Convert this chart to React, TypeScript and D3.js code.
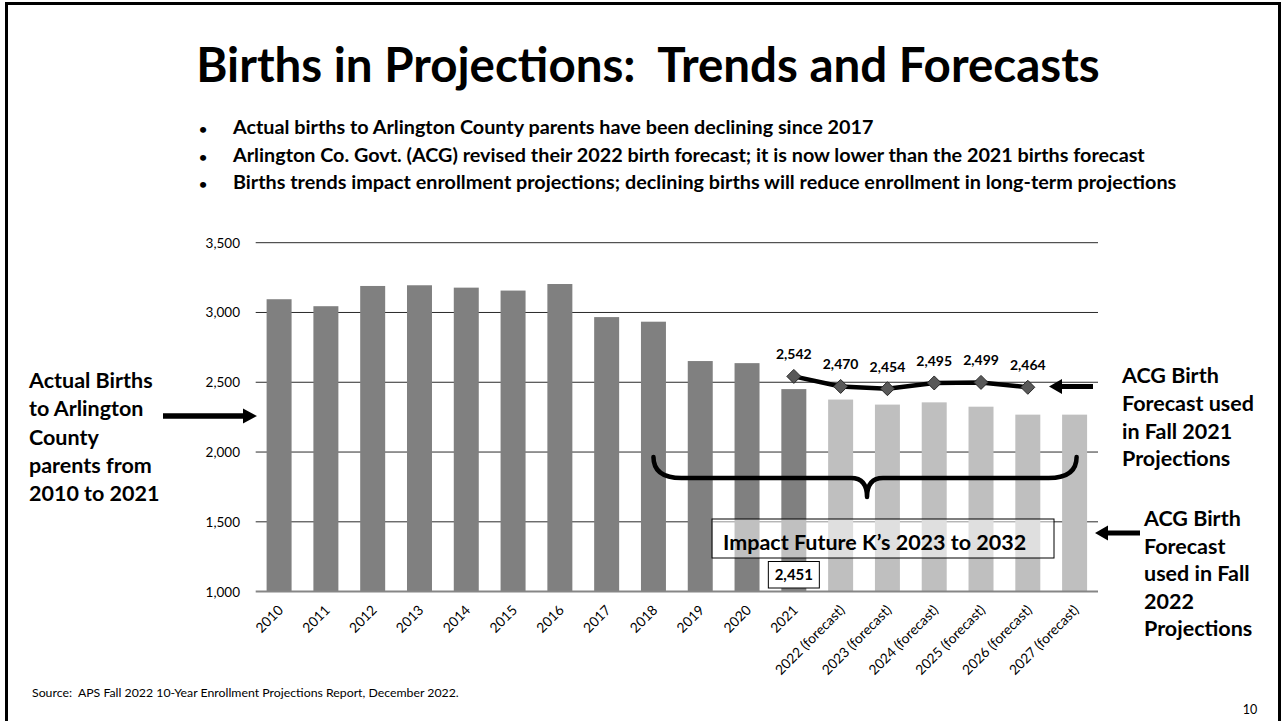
import React from "react";
import * as d3 from "d3";

const categories = [
  "2010", "2011", "2012", "2013", "2014", "2015", "2016", "2017", "2018", "2019", "2020", "2021",
  "2022 (forecast)", "2023 (forecast)", "2024 (forecast)", "2025 (forecast)", "2026 (forecast)", "2027 (forecast)",
];
const birthValues = [3095, 3045, 3190, 3195, 3178, 3157, 3204, 2967, 2934, 2652, 2637, 2451, 2376, 2340, 2356, 2325, 2268, 2268];
const isForecast = [false, false, false, false, false, false, false, false, false, false, false, false, true, true, true, true, true, true];

const fall2021Categories = ["2021", "2022 (forecast)", "2023 (forecast)", "2024 (forecast)", "2025 (forecast)", "2026 (forecast)"];
const fall2021Values = [2542, 2470, 2454, 2495, 2499, 2464];

const yTicks = [1000, 1500, 2000, 2500, 3000, 3500];

const titleText = "Births in Projections:  Trends and Forecasts";
const bullets = [
  "Actual births to Arlington County parents have been declining since 2017",
  "Arlington Co. Govt. (ACG) revised their 2022 birth forecast; it is now lower than the 2021 births forecast",
  "Births trends impact enrollment projections; declining births will reduce enrollment in long-term projections",
];
const leftNote = ["Actual Births", "to Arlington", "County", "parents from", "2010 to 2021"];
const rightNote2021 = ["ACG Birth", "Forecast used", "in Fall 2021", "Projections"];
const rightNote2022 = ["ACG Birth", "Forecast", "used in Fall", "2022", "Projections"];
const impactText = "Impact Future K\u2019s 2023 to 2032";
const sourceText = "Source:  APS Fall 2022 10-Year Enrollment Projections Report, December 2022.";
const pageNumber = "10";

const FONT = "Lato, 'Open Sans', sans-serif";

function leftArrow(tipX: number, tailX: number, cy: number) {
  const head = 13, hh = 7.5, sh = 2.6;
  return `M${tipX},${cy} L${tipX + head},${cy - hh} L${tipX + head},${cy - sh} L${tailX},${cy - sh} L${tailX},${cy + sh} L${tipX + head},${cy + sh} L${tipX + head},${cy + hh} Z`;
}
function rightArrow(tailX: number, tipX: number, cy: number) {
  const head = 14, hh = 7.5, sh = 2.8;
  return `M${tipX},${cy} L${tipX - head},${cy - hh} L${tipX - head},${cy - sh} L${tailX},${cy - sh} L${tailX},${cy + sh} L${tipX - head},${cy + sh} L${tipX - head},${cy + hh} Z`;
}

export default function App() {
  const W = 1283, H = 721;
  const x = d3.scaleBand<string>().domain(categories).range([255.7, 1098]).paddingInner(0.466).paddingOuter(0.233);
  const y = d3.scaleLinear().domain([1000, 3500]).range([591.6, 242.7]);
  const cx = (c: string) => (x(c) as number) + x.bandwidth() / 2;

  const line = d3.line<number>()
    .x((_, i) => cx(fall2021Categories[i]))
    .y((d) => y(d));

  const bx0 = cx("2018");
  const bx1 = cx("2027 (forecast)") + 2;
  const bxm = (bx0 + bx1) / 2 + 2;
  const byTop = 457, byMid = 478, byTip = 497;
  const brace = `M${bx0},${byTop} Q${bx0},${byMid} ${bx0 + 28},${byMid} L${bxm - 16},${byMid} Q${bxm},${byMid} ${bxm},${byTip} Q${bxm},${byMid} ${bxm + 16},${byMid} L${bx1 - 28},${byMid} Q${bx1},${byMid} ${bx1},${byTop}`;

  const c2021 = cx("2021");

  return (
    <svg width={W} height={H} style={{ position: "absolute", left: 0, top: 0, display: "block", background: "#fff" }} fontFamily={FONT}>
      <rect x={0} y={0} width={W} height={H} fill="#fff" />
      <rect x={6.5} y={3.5} width={1273} height={760} fill="none" stroke="#000" strokeWidth={3} />

      <text x={648} y={82} textAnchor="middle" fontSize={47.5} fontWeight={700} style={{ whiteSpace: "pre" }}>{titleText}</text>

      {bullets.map((b, i) => (
        <g key={i}>
          <text x={199} y={134 + i * 27.5} fontSize={14} fontWeight={700}>{"\u2022"}</text>
          <text x={233} y={134 + i * 27.5} fontSize={19.8} fontWeight={700}>{b}</text>
        </g>
      ))}

      {/* gridlines */}
      {yTicks.filter((t) => t > 1000).map((t) => (
        <line key={t} x1={255.7} x2={1098} y1={y(t)} y2={y(t)} stroke="#2b2b2b" strokeWidth={1} />
      ))}
      {yTicks.map((t) => (
        <text key={"l" + t} x={240} y={y(t) + 5} textAnchor="end" fontSize={13.5} fill="#000">{d3.format(",")(t)}</text>
      ))}

      {/* bars */}
      {categories.map((c, i) => (
        <rect key={c} x={x(c)} y={y(birthValues[i])} width={x.bandwidth()} height={y(1000) - y(birthValues[i])}
          fill={isForecast[i] ? "#bfbfbf" : "#808080"} />
      ))}
      <line x1={255.7} x2={1098} y1={y(1000)} y2={y(1000)} stroke="#868686" strokeWidth={2} />

      {/* x labels */}
      {categories.map((c) => (
        <text key={"x" + c} transform={`translate(${cx(c) + 5},${611}) rotate(-45)`} textAnchor="end" fontSize={13.8} fill="#000">{c}</text>
      ))}

      {/* Fall 2021 forecast line */}
      <path d={line(fall2021Values) || ""} fill="none" stroke="#000" strokeWidth={4.5} strokeLinejoin="round" />
      {fall2021Values.map((v, i) => {
        const px = cx(fall2021Categories[i]);
        const py = y(v);
        return (
          <g key={"m" + i}>
            <path d="M0,-7L7,0L0,7L-7,0Z" transform={`translate(${px},${py})`} fill="#595959" stroke="#2a2a2a" strokeWidth={1} />
            <text x={px} y={py - 17} textAnchor="middle" fontSize={14} fontWeight={700}>{d3.format(",")(v)}</text>
          </g>
        );
      })}

      {/* brace */}
      <path d={brace} fill="none" stroke="#000" strokeWidth={4.5} strokeLinecap="round" strokeLinejoin="round" />

      {/* Impact box */}
      <rect x={712} y={519} width={342} height={39} fill="#fff" fillOpacity={0.5} stroke="#000" strokeWidth={1} />
      <text x={723} y={549.5} fontSize={21.5} fontWeight={700}>{impactText}</text>

      {/* 2021 value label */}
      <rect x={c2021 - 25.5} y={561.5} width={51} height={26.5} fill="#fff" stroke="#000" strokeWidth={1} />
      <text x={c2021} y={580} textAnchor="middle" fontSize={15} fontWeight={700}>{d3.format(",")(birthValues[11])}</text>

      {/* left annotation */}
      {leftNote.map((t, i) => (
        <text key={"ln" + i} x={29} y={388 + i * 28.3} fontSize={21.5} fontWeight={700}>{t}</text>
      ))}
      <path d={rightArrow(163, 257, 416)} fill="#000" />

      {/* right annotations */}
      {rightNote2021.map((t, i) => (
        <text key={"r1" + i} x={1122} y={383 + i * 27.8} fontSize={21.5} fontWeight={700}>{t}</text>
      ))}
      <path d={leftArrow(1049, 1093, 386.5)} fill="#000" />
      {rightNote2022.map((t, i) => (
        <text key={"r2" + i} x={1144} y={526 + i * 27.6} fontSize={21.5} fontWeight={700}>{t}</text>
      ))}
      <path d={leftArrow(1095, 1140, 533)} fill="#000" />

      <text x={32} y={697} fontSize={12.3} fill="#000" style={{ whiteSpace: "pre" }}>{sourceText}</text>
      <text x={1250} y={714} textAnchor="middle" fontSize={12.5} fill="#000">{pageNumber}</text>
    </svg>
  );
}
